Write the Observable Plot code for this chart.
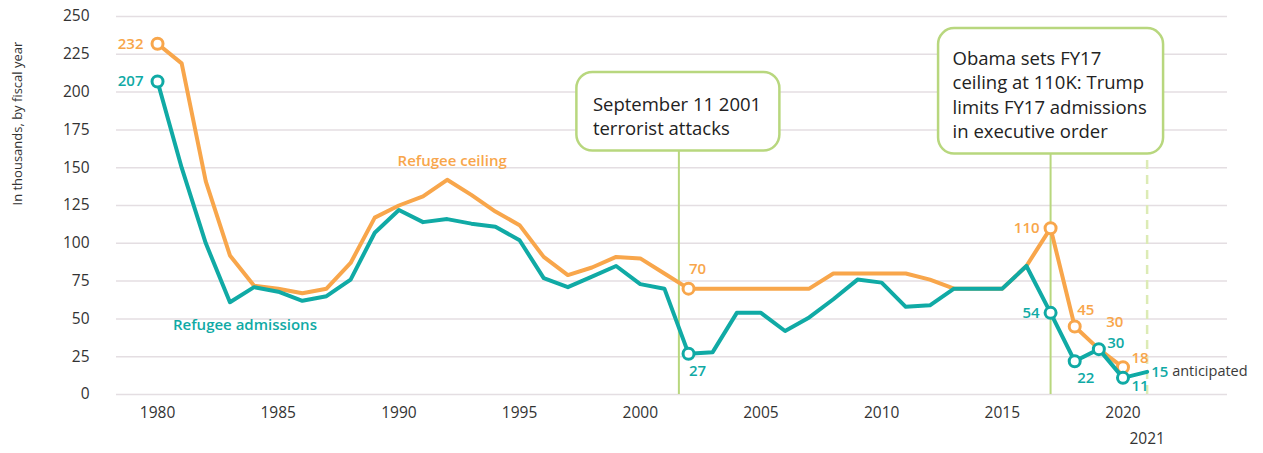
<!DOCTYPE html>
<html>
<head>
<meta charset="utf-8">
<script src="https://cdn.jsdelivr.net/npm/d3@7"></script>
<script src="https://cdn.jsdelivr.net/npm/@observablehq/plot@0.6"></script>
<style>
  html, body { margin: 0; padding: 0; background: #ffffff; }
  #chart svg { display: block; }
</style>
</head>
<body>
<div id="chart"></div>
<script>
// ---------- data ----------
const ceilingYears = [1980,1981,1982,1983,1984,1985,1986,1987,1988,1989,1990,1991,1992,1993,1994,1995,1996,1997,1998,1999,2000,2001,2002,2003,2004,2005,2006,2007,2008,2009,2010,2011,2012,2013,2014,2015,2016,2017,2018,2019,2020];
const ceilingValues = [232,219,141,92,72,70,67,70,87,117,125,131,142,132,121,112,91,79,84,91,90,80,70,70,70,70,70,70,80,80,80,80,76,70,70,70,85,110,45,30,18];

const admissionYears = [1980,1981,1982,1983,1984,1985,1986,1987,1988,1989,1990,1991,1992,1993,1994,1995,1996,1997,1998,1999,2000,2001,2002,2003,2004,2005,2006,2007,2008,2009,2010,2011,2012,2013,2014,2015,2016,2017,2018,2019,2020,2021];
const admissionValues = [207,150,100,61,71,68,62,65,76,107,122,114,116,113,111,102,77,71,78,85,73,70,27,28,54,54,42,51,63,76,74,58,59,70,70,70,85,54,22,30,11,15];

const ceilingMarkedYears = [1980,2002,2017,2018,2020];
const admissionMarkedYears = [1980,2002,2017,2018,2019,2020];

const ceilingLabelYears = [1980,2002,2017,2018,2019,2020];
const ceilingLabelTexts = ["232","70","110","45","30","18"];
const admissionLabelYears = [1980,2002,2017,2018,2019,2020,2021];
const admissionLabelTexts = ["207","27","54","22","30","11","15"];

const yTicks = [0,25,50,75,100,125,150,175,200,225,250];
const xTicks = [1980,1985,1990,1995,2000,2005,2010,2015,2020];
const anticipatedYear = 2021;

const seriesNames = ["Refugee ceiling","Refugee admissions"];
const yAxisLabel = "In thousands, by fiscal year";

const annotationYears = [2001.6, 2017];
const annotationTexts = ["September 11 2001\nterrorist attacks", "Obama sets FY17\nceiling at 110K: Trump\nlimits FY17 admissions\nin executive order"];
const annotationTops = [213, 242];
const annotationBottoms = [161, 159];

// ---------- styles / layout ----------
const ORANGE = "#f8a64b";
const TEAL = "#10aaa5";
const GREEN = "#b8d77e";
const GREEN_LIGHT = "#dcebb5";
const GRID = "#e4dee2";
const INK = "#333333";
const FONT = "'Open Sans', 'Noto Sans', sans-serif";

const ceiling = ceilingYears.map((year, i) => ({year, value: ceilingValues[i]}));
const admissions = admissionYears.map((year, i) => ({year, value: admissionValues[i]}));
const valueOf = (series, year) => series.find(d => d.year === year).value;

const ceilingPlacement = {
  1980: {anchor: "end", dx: -14, dy: 0},
  2002: {anchor: "middle", dx: 9, dy: -19},
  2017: {anchor: "end", dx: -11, dy: 0},
  2018: {anchor: "middle", dx: 11, dy: -16},
  2019: {anchor: "middle", dx: 16, dy: -27},
  2020: {anchor: "middle", dx: 17, dy: -9}
};
const admissionPlacement = {
  1980: {anchor: "end", dx: -14, dy: 0},
  2002: {anchor: "middle", dx: 9, dy: 18},
  2017: {anchor: "end", dx: -11, dy: 0},
  2018: {anchor: "middle", dx: 11, dy: 17},
  2019: {anchor: "middle", dx: 17, dy: -6},
  2020: {anchor: "middle", dx: 17, dy: 8},
  2021: {anchor: "start", dx: 4, dy: 0}
};
const annotationLayout = [
  {left: 102, right: 101, textDx: -86, textDy: 21},
  {left: 112, right: 113, textDx: -98, textDy: 19}
];

function valueLabels(series, years, texts, placement, color) {
  return years.map((year, i) => {
    const p = placement[year];
    return Plot.text([{year, value: valueOf(series, year), text: texts[i]}], {
      x: "year", y: "value", text: "text",
      textAnchor: p.anchor, dx: p.dx, dy: p.dy,
      fill: color, fontSize: 15, fontWeight: 600, fontFamily: FONT
    });
  });
}

const annotations = annotationYears.map((x, i) => ({x, text: annotationTexts[i], top: annotationTops[i], bottom: annotationBottoms[i]}));

const annotationMarks = annotations.flatMap((a, i) => {
  const L = annotationLayout[i];
  return [
    Plot.ruleX([a], {x: "x", y1: 0, y2: "bottom", stroke: GREEN, strokeWidth: 2}),
    Plot.rect([a], {x1: "x", x2: "x", y1: "bottom", y2: "top", insetLeft: -L.left, insetRight: -L.right, rx: 16, ry: 16, fill: "white", stroke: GREEN, strokeWidth: 2.5}),
    Plot.text([a], {x: "x", y: "top", text: "text", textAnchor: "start", lineAnchor: "top", dx: L.textDx, dy: L.textDy, lineHeight: 1.32, fontSize: 18.5, fill: "#222", fontFamily: FONT})
  ];
});

const chart = Plot.plot({
  width: 1263,
  height: 453,
  marginLeft: 116,
  marginRight: 36,
  marginTop: 16,
  marginBottom: 59,
  style: {fontFamily: FONT, fontSize: "15px", color: INK, background: "white"},
  x: {domain: [1978.3, 2024.33]},
  y: {domain: [0, 250]},
  marks: [
    Plot.ruleY(yTicks, {stroke: GRID, strokeWidth: 1.5}),
    Plot.axisY(yTicks, {tickSize: 0, tickPadding: 27, label: null, fontSize: 15.5}),
    Plot.axisX(xTicks, {tickSize: 0, tickPadding: 12, label: null, tickFormat: d => String(d), fontSize: 15.5}),
    Plot.text([yAxisLabel], {frameAnchor: "left", dx: -99, rotate: -90, text: d => d, fontSize: 13, fill: INK, fontFamily: FONT}),
    Plot.ruleX([anticipatedYear], {x: d => d, y1: 0, y2: 250, insetBottom: -39, stroke: GREEN_LIGHT, strokeWidth: 2.5, strokeDasharray: "9,6"}),
    Plot.text([anticipatedYear], {x: d => d, frameAnchor: "bottom", dy: 49, text: d => String(d), fontSize: 15.5, fill: INK, fontFamily: FONT}),
    ...annotationMarks,
    Plot.line(ceiling, {x: "year", y: "value", stroke: ORANGE, strokeWidth: 4, strokeLinejoin: "round", strokeLinecap: "round"}),
    Plot.dot(ceiling.filter(d => ceilingMarkedYears.includes(d.year)), {x: "year", y: "value", r: 5.5, fill: "white", stroke: ORANGE, strokeWidth: 3}),
    Plot.line(admissions, {x: "year", y: "value", stroke: TEAL, strokeWidth: 4, strokeLinejoin: "round", strokeLinecap: "round"}),
    Plot.dot(admissions.filter(d => admissionMarkedYears.includes(d.year)), {x: "year", y: "value", r: 5.5, fill: "white", stroke: TEAL, strokeWidth: 3}),
    ...valueLabels(ceiling, ceilingLabelYears, ceilingLabelTexts, ceilingPlacement, ORANGE),
    ...valueLabels(admissions, admissionLabelYears, admissionLabelTexts, admissionPlacement, TEAL),
    Plot.text([{year: anticipatedYear, value: valueOf(admissions, anticipatedYear)}], {x: "year", y: "value", text: () => "anticipated", textAnchor: "start", dx: 25, fill: "#3a3a3a", fontSize: 14.5, fontFamily: FONT}),
    Plot.text([{year: 1992, value: valueOf(ceiling, 1992), name: seriesNames[0]}], {x: "year", y: "value", text: "name", textAnchor: "middle", dx: 5, dy: -19, fill: ORANGE, fontSize: 15, fontWeight: 600, fontFamily: FONT}),
    Plot.text([{year: 1983, value: valueOf(admissions, 1983), name: seriesNames[1]}], {x: "year", y: "value", text: "name", textAnchor: "middle", dx: 15, dy: 23, fill: TEAL, fontSize: 15, fontWeight: 600, fontFamily: FONT})
  ]
});

document.getElementById("chart").appendChild(chart);
</script>
</body>
</html>
